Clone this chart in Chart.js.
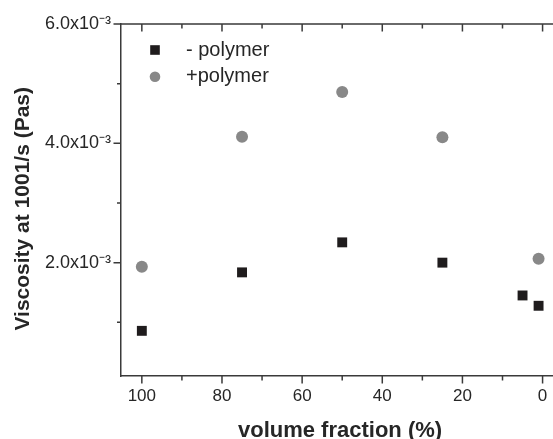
<!DOCTYPE html>
<html>
<head>
<meta charset="utf-8">
<script src="https://cdn.jsdelivr.net/npm/chart.js@4/dist/chart.umd.min.js"></script>
<style>
  body { margin: 0; background: #fff; }
  #chart { display: block; }
</style>
</head>
<body>
<canvas id="chart" width="553" height="439"></canvas>
<script>
// values
var fractionMinus = [100, 75, 50, 25, 5, 1];
var viscosityMinus = [0.857e-3, 1.837e-3, 2.34e-3, 2.0e-3, 1.45e-3, 1.277e-3];
var fractionPlus = [100, 75, 50, 25, 1];
var viscosityPlus = [1.93e-3, 4.11e-3, 4.86e-3, 4.10e-3, 2.065e-3];

var xMajorValues = [100, 80, 60, 40, 20, 0];
var xTickLabels = ["100", "80", "60", "40", "20", "0"];
var yMajorValues = [2e-3, 4e-3, 6e-3];
var yTickLabels = ["2.0x10\u207B\u00B3", "4.0x10\u207B\u00B3", "6.0x10\u207B\u00B3"];

var seriesLabels = ["- polymer", "+polymer"];

var axisColor = "#3a3a3a";
var textColor = "#262626";
var fontName = "'Liberation Sans', Arial, sans-serif";

function pairs(xs, ys) {
    return xs.map(function(v, i) { return {x: v, y: ys[i]}; });
}

function findLabel(values, labels, value) {
    for (var i = 0; i < values.length; i++) {
        if (Math.abs(values[i] - value) < Math.abs(values[i]) * 1e-6 + 1e-12) return labels[i];
    }
    return "";
}

// ticks on the frame: outward on left/bottom, inward on the top line
var frameTicks = {
    id: "frameTicks",
    afterDraw: function(chart) {
        var ctx = chart.ctx, a = chart.chartArea;
        var x = chart.scales.x, y = chart.scales.y;
        ctx.save();
        ctx.strokeStyle = axisColor;
        ctx.lineWidth = 1.5;
        ctx.beginPath();
        ctx.moveTo(a.left, a.top);
        ctx.lineTo(a.right, a.top);
        x.ticks.forEach(function(t) {
            var px = x.getPixelForValue(t.value);
            var len = xMajorValues.indexOf(Math.round(t.value)) >= 0 ? 7.5 : 4.5;
            ctx.moveTo(px, a.bottom);
            ctx.lineTo(px, a.bottom + len);
            ctx.moveTo(px, a.top);
            ctx.lineTo(px, a.top + len);
        });
        y.ticks.forEach(function(t) {
            var py = y.getPixelForValue(t.value);
            var len = findLabel(yMajorValues, yTickLabels, t.value) ? 7.5 : 4;
            ctx.moveTo(a.left, py);
            ctx.lineTo(a.left - len, py);
        });
        ctx.stroke();
        ctx.restore();
    }
};

// legend in the upper left corner of the plot
var cornerLegend = {
    id: "cornerLegend",
    afterDraw: function(chart) {
        var ctx = chart.ctx, a = chart.chartArea;
        ctx.save();
        chart.data.datasets.forEach(function(ds, i) {
            var cx = a.left + 34, cy = a.top + 26 + i * 26.7;
            ctx.fillStyle = ds.backgroundColor;
            if (ds.pointStyle === "rect") {
                ctx.fillRect(cx - 4.8, cy - 4.8, 9.6, 9.6);
            } else {
                ctx.beginPath();
                ctx.arc(cx, cy, 5.3, 0, Math.PI * 2);
                ctx.fill();
            }
            ctx.fillStyle = textColor;
            ctx.font = "20px " + fontName;
            ctx.textBaseline = "alphabetic";
            ctx.textAlign = "left";
            ctx.fillText(ds.label, a.left + 65, cy + 5.5);
        });
        ctx.restore();
    }
};

var ctx = document.getElementById("chart").getContext("2d");
new Chart(ctx, {
    type: "scatter",
    data: {
        datasets: [
            {
                label: seriesLabels[0],
                data: pairs(fractionMinus, viscosityMinus),
                pointStyle: "rect",
                pointRadius: 7,
                pointHoverRadius: 7,
                backgroundColor: "#1f1c1d",
                borderWidth: 0
            },
            {
                label: seriesLabels[1],
                data: pairs(fractionPlus, viscosityPlus),
                pointStyle: "circle",
                pointRadius: 6,
                pointHoverRadius: 6,
                backgroundColor: "#888888",
                borderWidth: 0
            }
        ]
    },
    options: {
        responsive: false,
        animation: false,
        devicePixelRatio: 1,
        layout: {autoPadding: false, padding: {top: 24, right: 0, bottom: 0, left: 0}},
        plugins: {
            legend: {display: false},
            tooltip: {enabled: false}
        },
        scales: {
            x: {
                type: "linear",
                position: "bottom",
                reverse: true,
                min: -2.6,
                max: 105.2,
                grid: {display: false, drawTicks: false},
                border: {display: true, color: axisColor, width: 1.5},
                ticks: {
                    stepSize: 10,
                    includeBounds: false,
                    autoSkip: false,
                    maxRotation: 0,
                    padding: 10,
                    color: textColor,
                    font: {family: fontName, size: 17},
                    callback: function(value) {
                        return findLabel(xMajorValues, xTickLabels, value);
                    }
                },
                title: {
                    display: true,
                    text: " volume fraction (%)",
                    color: textColor,
                    font: {family: fontName, size: 22, weight: "bold", lineHeight: 1},
                    padding: {top: 0, bottom: -3}
                },
                afterFit: function(scale) {
                    scale.height = 63;
                    scale.paddingLeft = 0;
                    scale.paddingRight = 0;
                }
            },
            y: {
                type: "linear",
                min: 1e-4,
                max: 6e-3,
                grid: {display: false, drawTicks: false},
                border: {display: true, color: axisColor, width: 1.5},
                ticks: {
                    stepSize: 1e-3,
                    includeBounds: false,
                    autoSkip: false,
                    padding: 10,
                    color: textColor,
                    font: {family: fontName, size: 18},
                    callback: function(value) {
                        return findLabel(yMajorValues, yTickLabels, value);
                    }
                },
                title: {
                    display: true,
                    text: "Viscosity at 1001/s (Pas)   ",
                    color: textColor,
                    font: {family: fontName, size: 21, weight: "bold", lineHeight: 1},
                    padding: {top: 13, bottom: 0}
                },
                afterFit: function(scale) { scale.width = 121; }
            }
        }
    },
    plugins: [frameTicks, cornerLegend]
});
</script>
</body>
</html>
